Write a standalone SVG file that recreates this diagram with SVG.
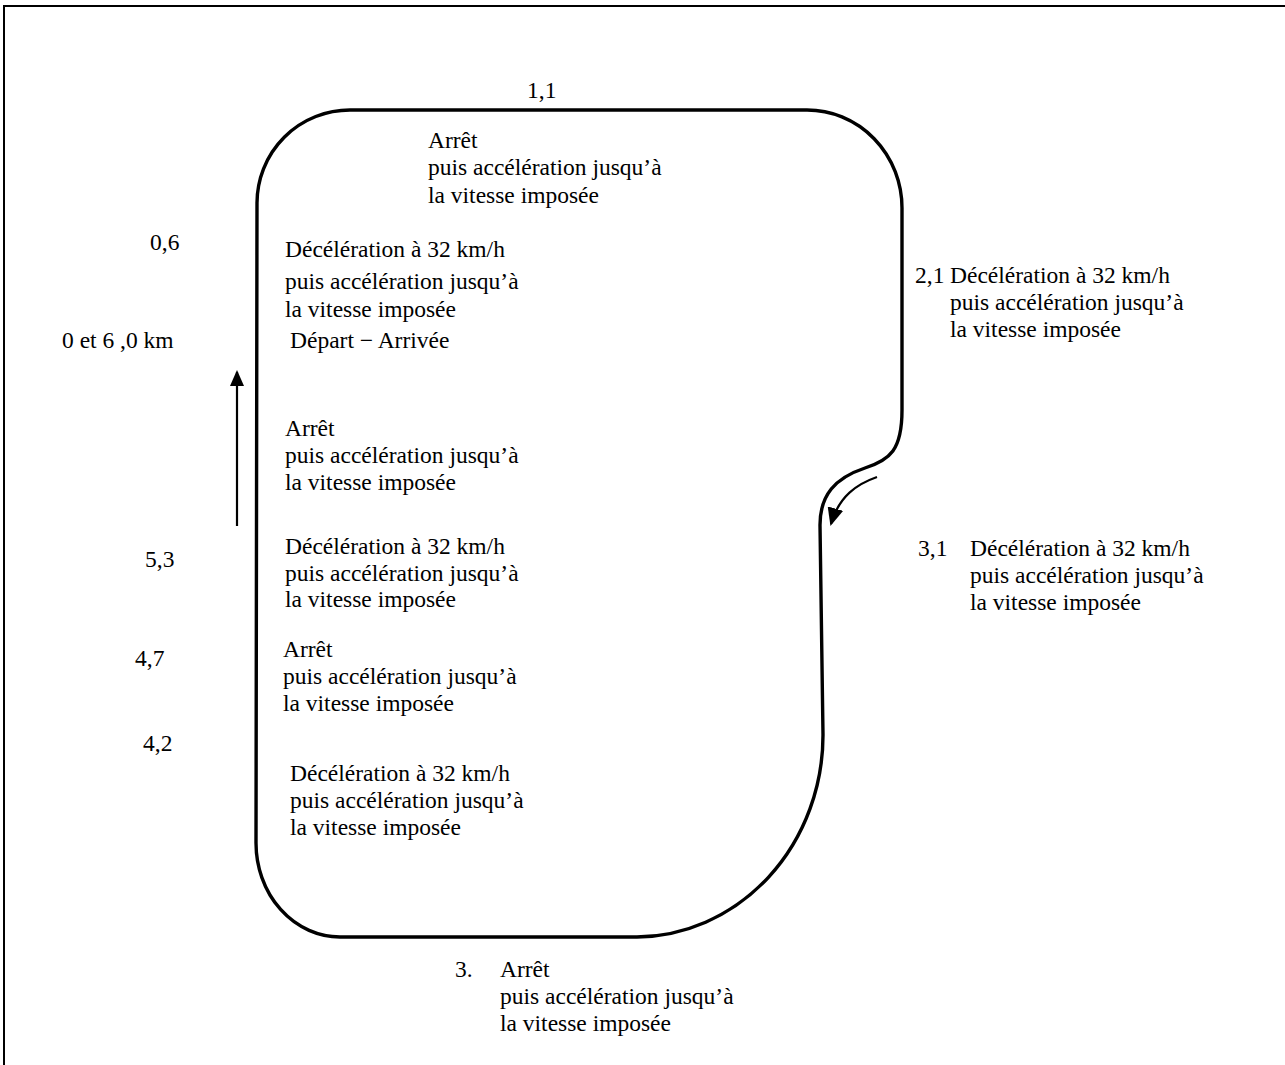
<svg xmlns="http://www.w3.org/2000/svg" width="1285" height="1065" viewBox="0 0 1285 1065">
<style>
text{font-family:"Liberation Serif","Times New Roman",serif;font-size:23.5px;fill:#000}
.track{fill:none;stroke:#000;stroke-width:3.4}
.arr{fill:none;stroke:#000;stroke-width:2.2}
.frame{fill:none;stroke:#000;stroke-width:2}
</style>
<defs>
<marker id="ah" markerUnits="userSpaceOnUse" markerWidth="16" markerHeight="14" refX="14" refY="7" orient="auto">
<path d="M0,0 L16,7 L0,14 z" fill="#000"/>
</marker>
<marker id="ah2" markerUnits="userSpaceOnUse" markerWidth="18" markerHeight="16" refX="16" refY="8" orient="auto">
<path d="M0,0 L18,8 L0,16 z" fill="#000"/>
</marker>
</defs>
<rect width="1285" height="1065" fill="#fff"/>
<path class="frame" d="M4 1065 L4 6 L1285 6"/>
<g id="track">
<path class="track" d="M350 110 L807 110 A95 98 0 0 1 902 208 L902 410 C902 450 890 460 865 468 C835 478 820 495 820 525 L823 735 A188 202 0 0 1 637 937 L340 937 A84 94 0 0 1 256 843 L257 203 A93 93 0 0 1 350 110 Z"/>
</g>
<g id="connectors">
<path class="arr" d="M237 526 L237 372" marker-end="url(#ah)"/>
<path class="arr" d="M877 477 C857 484 839 496 831 524" stroke-width="3" marker-end="url(#ah2)"/>
</g>
<g id="n-top">
<text x="527" y="98">1,1</text>
<text x="428" y="148">Arrêt</text>
<text x="428" y="175">puis accélération jusqu’à</text>
<text x="428" y="203">la vitesse imposée</text>
</g>
<g id="n-06">
<text x="150" y="250">0,6</text>
<text x="285" y="257">Décélération à 32 km/h</text>
<text x="285" y="289">puis accélération jusqu’à</text>
<text x="285" y="317">la vitesse imposée</text>
</g>
<g id="n-21">
<text x="915" y="283">2,1</text>
<text x="950" y="283">Décélération à 32 km/h</text>
<text x="950" y="310">puis accélération jusqu’à</text>
<text x="950" y="337">la vitesse imposée</text>
</g>
<g id="n-start">
<text x="62" y="348">0 et 6 ,0 km</text>
<text x="290" y="348">Départ − Arrivée</text>
</g>
<g id="n-arret1">
<text x="285" y="436">Arrêt</text>
<text x="285" y="463">puis accélération jusqu’à</text>
<text x="285" y="490">la vitesse imposée</text>
</g>
<g id="n-31">
<text x="918" y="556">3,1</text>
<text x="970" y="556">Décélération à 32 km/h</text>
<text x="970" y="583">puis accélération jusqu’à</text>
<text x="970" y="610">la vitesse imposée</text>
</g>
<g id="n-53">
<text x="145" y="567">5,3</text>
<text x="285" y="554">Décélération à 32 km/h</text>
<text x="285" y="581">puis accélération jusqu’à</text>
<text x="285" y="607">la vitesse imposée</text>
</g>
<g id="n-47">
<text x="135" y="666">4,7</text>
<text x="283" y="657">Arrêt</text>
<text x="283" y="684">puis accélération jusqu’à</text>
<text x="283" y="711">la vitesse imposée</text>
</g>
<g id="n-42">
<text x="143" y="751">4,2</text>
<text x="290" y="781">Décélération à 32 km/h</text>
<text x="290" y="808">puis accélération jusqu’à</text>
<text x="290" y="835">la vitesse imposée</text>
</g>
<g id="n-3">
<text x="455" y="977">3.</text>
<text x="500" y="977">Arrêt</text>
<text x="500" y="1004">puis accélération jusqu’à</text>
<text x="500" y="1031">la vitesse imposée</text>
</g>
</svg>
